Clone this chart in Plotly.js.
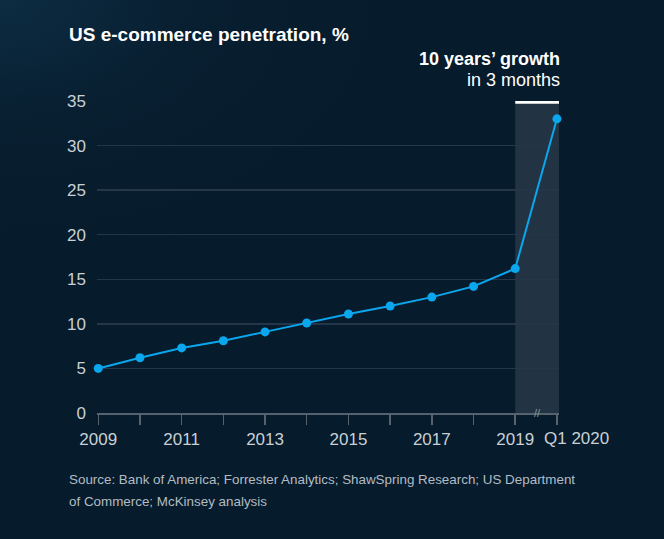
<!DOCTYPE html>
<html>
<head>
<meta charset="utf-8">
<script src="https://cdn.plot.ly/plotly-3.0.1.min.js"></script>
<style>
  html, body { margin: 0; padding: 0; }
  body {
    width: 664px; height: 539px; overflow: hidden;
    background: radial-gradient(ellipse 420px 260px at 0px 0px, #0d2c42 0%, #081f31 45%, #061b2b 100%);
  }
  #chart { width: 664px; height: 539px; }
</style>
</head>
<body>
<div id="chart"></div>
<script>
// ---- data ----
const periods = ["2009","2010","2011","2012","2013","2014","2015","2016","2017","2018","2019","Q1 2020"];
const penetration = [5.0, 6.2, 7.3, 8.1, 9.1, 10.1, 11.1, 12.0, 13.0, 14.2, 16.2, 33.0];
const xTickLabels = ["2009","","2011","","2013","","2015","","2017","","2019",""];
const yTickValues = [0, 5, 10, 15, 20, 25, 30, 35];
const lastLabel = "Q1 2020";
const titleText = "US e-commerce penetration, %";
const calloutBold = "10 years’ growth";
const calloutRegular = "in 3 months";
const sourceLine1 = "Source: Bank of America; Forrester Analytics; ShawSpring Research; US Department";
const sourceLine2 = "of Commerce; McKinsey analysis";

// ---- layout helpers ----
const W = 664, H = 539;
const M = {l: 97, r: 105, t: 101, b: 126};
const plotW = W - M.l - M.r, plotH = H - M.t - M.b;
const px2x = px => (px - M.l) / plotW;
const px2y = py => (H - M.b - py) / plotH;

const xIdx = periods.map((_, i) => i);
const FONT = "'Liberation Sans', Arial, Helvetica, sans-serif";
const LINE_BLUE = "#0aa6ee";
const AXIS_GRAY = "#56636e";
const GRID = "#24374a";
const TICK_TXT = "#c9d0d6";

const trace = {
  x: xIdx,
  y: penetration,
  type: "scatter",
  mode: "lines+markers",
  line: {color: LINE_BLUE, width: 2},
  marker: {color: LINE_BLUE, size: 9},
  cliponaxis: false,
  hoverinfo: "skip"
};

const lastI = xIdx[xIdx.length - 1];
const prevI = xIdx[xIdx.length - 2];

const layout = {
  width: W, height: H,
  margin: M,
  paper_bgcolor: "rgba(0,0,0,0)",
  plot_bgcolor: "rgba(0,0,0,0)",
  showlegend: false,
  font: {family: FONT, color: TICK_TXT},
  title: {
    text: titleText,
    font: {family: FONT, size: 19, color: "#ffffff", weight: "bold"},
    xref: "container", yref: "container",
    x: 69 / W, xanchor: "left",
    y: 1 - 34 / H, yanchor: "middle"
  },
  xaxis: {
    range: [-0.03, 11.05],
    tickmode: "array",
    tickvals: xIdx,
    ticktext: xTickLabels,
    ticks: "outside", ticklen: 10, tickwidth: 1.5, tickcolor: AXIS_GRAY,
    showline: true, linecolor: AXIS_GRAY, linewidth: 2,
    showgrid: false, zeroline: false,
    tickfont: {family: FONT, size: 17, color: TICK_TXT},
    fixedrange: true
  },
  yaxis: {
    range: [0, 35],
    tickmode: "array",
    tickvals: yTickValues,
    ticks: "", showline: false,
    showgrid: true, gridcolor: GRID, gridwidth: 1.5,
    zeroline: false,
    tickfont: {family: FONT, size: 17, color: TICK_TXT},
    ticklabelstandoff: 10,
    fixedrange: true
  },
  shapes: [
    {type: "rect", xref: "x", yref: "y", x0: prevI, x1: 11.05, y0: 0, y1: 34.85,
     fillcolor: "rgba(255,255,255,0.115)", line: {width: 0}, layer: "below"},
    {type: "line", xref: "x", yref: "y", x0: prevI, x1: 11.05, y0: 34.85, y1: 34.85,
     line: {color: "#ffffff", width: 3}}
  ],
  annotations: [
    {text: lastLabel, xref: "x", yref: "paper", x: lastI, y: 0,
     xanchor: "center", yanchor: "middle", xshift: 20, yshift: -25, showarrow: false,
     font: {family: FONT, size: 17, color: TICK_TXT}},
    {text: "//", xref: "x", yref: "paper", x: (prevI + lastI) / 2 + 0.04, y: 0,
     xanchor: "center", yanchor: "middle", showarrow: false, yshift: 0,
     font: {family: FONT, size: 11, color: "#8a96a0"}},
    {text: calloutBold, xref: "paper", yref: "paper", x: px2x(562), y: px2y(59),
     xanchor: "right", yanchor: "middle", showarrow: false,
     font: {family: FONT, size: 18, color: "#ffffff", weight: "bold"}},
    {text: calloutRegular, xref: "paper", yref: "paper", x: px2x(562), y: px2y(80),
     xanchor: "right", yanchor: "middle", showarrow: false,
     font: {family: FONT, size: 18, color: "#ffffff"}},
    {text: sourceLine1, xref: "paper", yref: "paper", x: px2x(67), y: px2y(480),
     xanchor: "left", yanchor: "middle", showarrow: false,
     font: {family: FONT, size: 13.4, color: "#b3bcc4"}},
    {text: sourceLine2, xref: "paper", yref: "paper", x: px2x(67), y: px2y(502),
     xanchor: "left", yanchor: "middle", showarrow: false,
     font: {family: FONT, size: 13.4, color: "#b3bcc4"}}
  ]
};

Plotly.newPlot("chart", [trace], layout, {displayModeBar: false, staticPlot: true});
</script>
</body>
</html>
